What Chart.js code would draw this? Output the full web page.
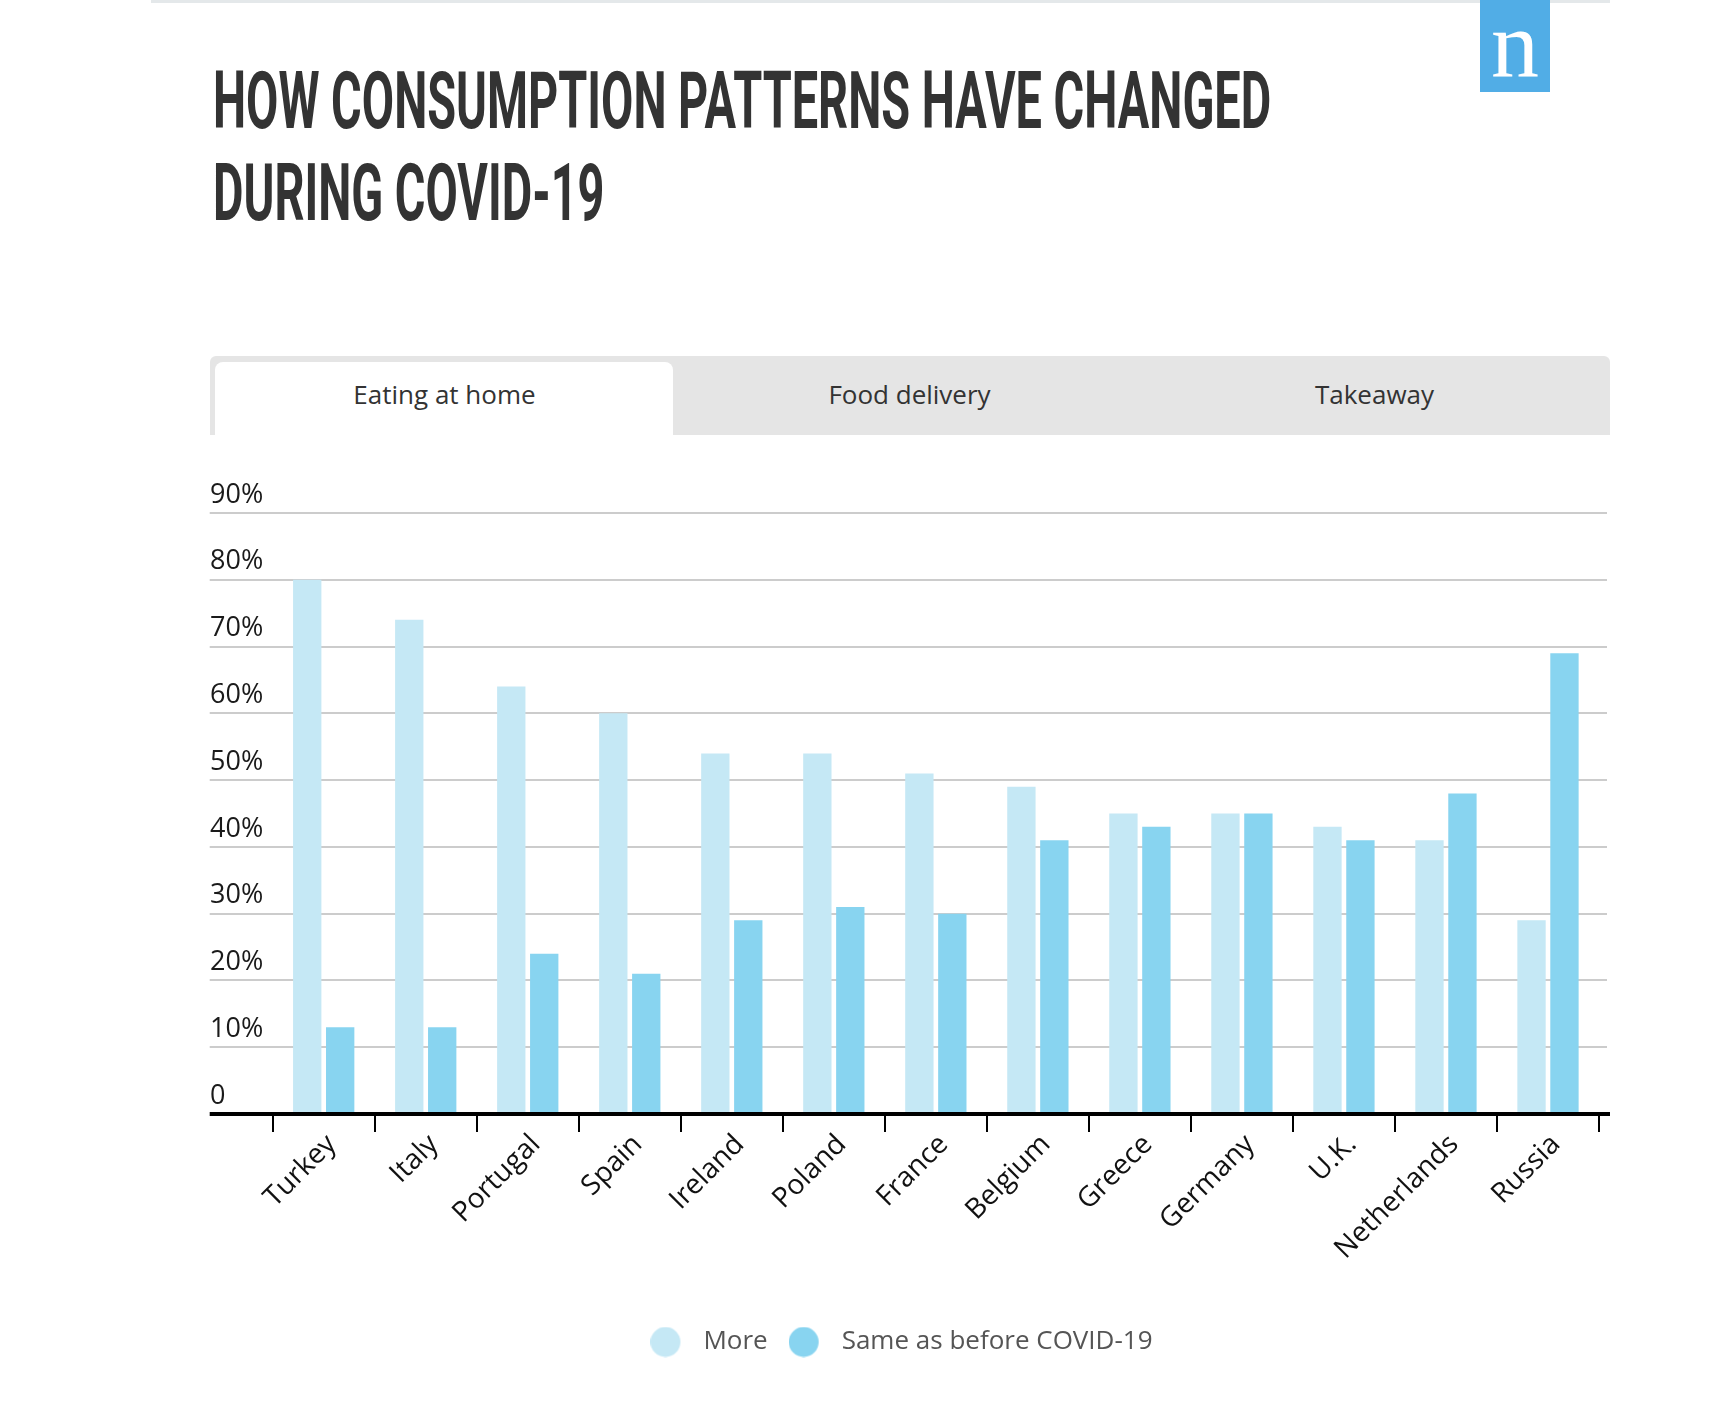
<!DOCTYPE html>
<html>
<head>
<meta charset="utf-8">
<title>How consumption patterns have changed during COVID-19</title>
<script src="https://cdn.jsdelivr.net/npm/chart.js@4.4.0/dist/chart.umd.min.js"></script>
<style>
  html, body { margin: 0; padding: 0; background: #fff; }
  body { width: 1723px; height: 1401px; position: relative; overflow: hidden; font-family: "Open Sans", sans-serif; }
  .topline { position: absolute; left: 151px; top: 0; width: 1459px; height: 3px; background: #e4e8ea; }
  .logo { position: absolute; left: 1480px; top: 0; width: 70px; height: 92px; background: #51ade6; }
  .logo span { position: absolute; left: 0; top: -3px; width: 70px; text-align: center; font-family: "Liberation Serif", serif; font-size: 96px; line-height: 96px; color: #fff; }
  .title { position: absolute; left: 213px; font-family: Roboto, sans-serif; font-weight: 700; font-size: 80px; line-height: 80px; color: #333; white-space: nowrap; transform-origin: 0 0; }
  .tabs { position: absolute; left: 210px; top: 356px; width: 1400px; height: 79px; background: #e5e5e5; border-radius: 6px 6px 0 0; }
  .tab-active { position: absolute; left: 5px; top: 6px; width: 458px; height: 73px; background: #fff; border-radius: 8px 8px 0 0; }
  .tab-label { position: absolute; top: 20px; width: 469px; text-align: center; font-size: 26px; line-height: 36px; color: #333; }
  #wrap { position: absolute; left: 190px; top: 473px; width: 1440px; height: 892px; }
</style>
</head>
<body>
<div class="topline"></div>
<div class="logo"><span>n</span></div>
<div class="title" id="t1" style="top:61px">HOW CONSUMPTION PATTERNS HAVE CHANGED</div>
<div class="title" id="t2" style="top:153px">DURING COVID-19</div>
<div class="tabs">
  <div class="tab-active"></div>
  <div class="tab-label" style="left:0">Eating at home</div>
  <div class="tab-label" style="left:465px">Food delivery</div>
  <div class="tab-label" style="left:930px">Takeaway</div>
</div>
<div id="wrap"><canvas id="chart" width="1440" height="892"></canvas></div>

<script>
const countries = ['Turkey', 'Italy', 'Portugal', 'Spain', 'Ireland', 'Poland', 'France',
  'Belgium', 'Greece', 'Germany', 'U.K.', 'Netherlands', 'Russia'];
const more = [80, 74, 64, 60, 54, 54, 51, 49, 45, 45, 43, 41, 29];
const same = [13, 13, 24, 21, 29, 31, 30, 41, 43, 45, 41, 48, 69];
const yTickLabels = ['0', '10%', '20%', '30%', '40%', '50%', '60%', '70%', '80%', '90%'];
const seriesNames = ['More', 'Same as before COVID-19'];
const colorMore = '#c5e8f5';
const colorSame = '#88d4f0';

// squeeze the headline into its width, like the condensed face in the original
const t1 = document.getElementById('t1');
const t2 = document.getElementById('t2');
const sx = 1058 / t1.offsetWidth;
t1.style.transform = 'scaleX(' + sx + ')';
t2.style.transform = 'scaleX(' + sx + ')';

function dot(color) {
  const c = document.createElement('canvas');
  c.width = 54;
  c.height = 31;
  const g = c.getContext('2d');
  g.fillStyle = color;
  g.beginPath();
  g.arc(15, 15.5, 15, 0, Math.PI * 2);
  g.fill();
  return c;
}
const dots = [dot(colorMore), dot(colorSame)];

const gridColor = (ctx) => (ctx.tick && ctx.tick.value === 0 ? '#000' : '#cccccc');
const gridWidth = (ctx) => (ctx.tick && ctx.tick.value === 0 ? 4 : 2);

const zeroLine = {
  id: 'zeroLine',
  afterDatasetsDraw(chart) {
    const y = chart.scales.y;
    const y2 = chart.scales.y2;
    const py = y.getPixelForValue(0);
    const ctx = chart.ctx;
    ctx.save();
    ctx.strokeStyle = '#000';
    ctx.lineWidth = 4;
    ctx.beginPath();
    ctx.moveTo(y.left, py);
    ctx.lineTo(y2.right + 3, py);
    ctx.stroke();
    ctx.restore();
  }
};

new Chart(document.getElementById('chart'), {
  type: 'bar',
  data: {
    labels: countries,
    datasets: [
      { label: seriesNames[0], data: more, backgroundColor: colorMore, borderWidth: 0 },
      { label: seriesNames[1], data: same, backgroundColor: colorSame, borderWidth: 0 }
    ]
  },
  options: {
    responsive: false,
    animation: false,
    devicePixelRatio: 1,
    categoryPercentage: 0.646,
    barPercentage: 0.86,
    layout: { padding: { left: 20, right: 23, top: 40, bottom: 0 } },
    plugins: {
      tooltip: { enabled: false },
      legend: {
        position: 'bottom',
        labels: {
          usePointStyle: true,
          padding: 35,
          color: '#555',
          font: { family: 'Open Sans', size: 26 },
          generateLabels(chart) {
            const items = Chart.defaults.plugins.legend.labels.generateLabels(chart);
            items.forEach((it, i) => { it.pointStyle = dots[i]; });
            return items;
          }
        }
      }
    },
    scales: {
      x: {
        grid: { drawOnChartArea: false, offset: true, color: '#000', lineWidth: 2, tickLength: 18 },
        border: { display: false },
        ticks: {
          color: '#111',
          font: { family: 'Open Sans', size: 28 },
          minRotation: 45,
          maxRotation: 45,
          padding: -4,
          labelOffset: 8,
          autoSkip: false
        },
        afterFit(scale) { scale.height = 180; }
      },
      y: {
        min: 0,
        max: 90,
        border: { display: false },
        grid: { color: gridColor, lineWidth: gridWidth, tickLength: 63 },
        ticks: {
          stepSize: 10,
          autoSkip: false,
          crossAlign: 'far',
          labelOffset: -18,
          padding: 0,
          color: '#1a1a1a',
          font: { family: 'Open Sans', size: 27 },
          callback: (value, index) => yTickLabels[index]
        },
        afterFit(scale) { scale.width = 62.7; }
      },
      y2: {
        position: 'right',
        min: 0,
        max: 90,
        border: { display: false },
        grid: { drawOnChartArea: false, color: gridColor, lineWidth: gridWidth, tickLength: 8 },
        ticks: { stepSize: 10, display: false },
        afterFit(scale) { scale.width = 8; }
      }
    }
  },
  plugins: [zeroLine]
});
</script>
</body>
</html>
